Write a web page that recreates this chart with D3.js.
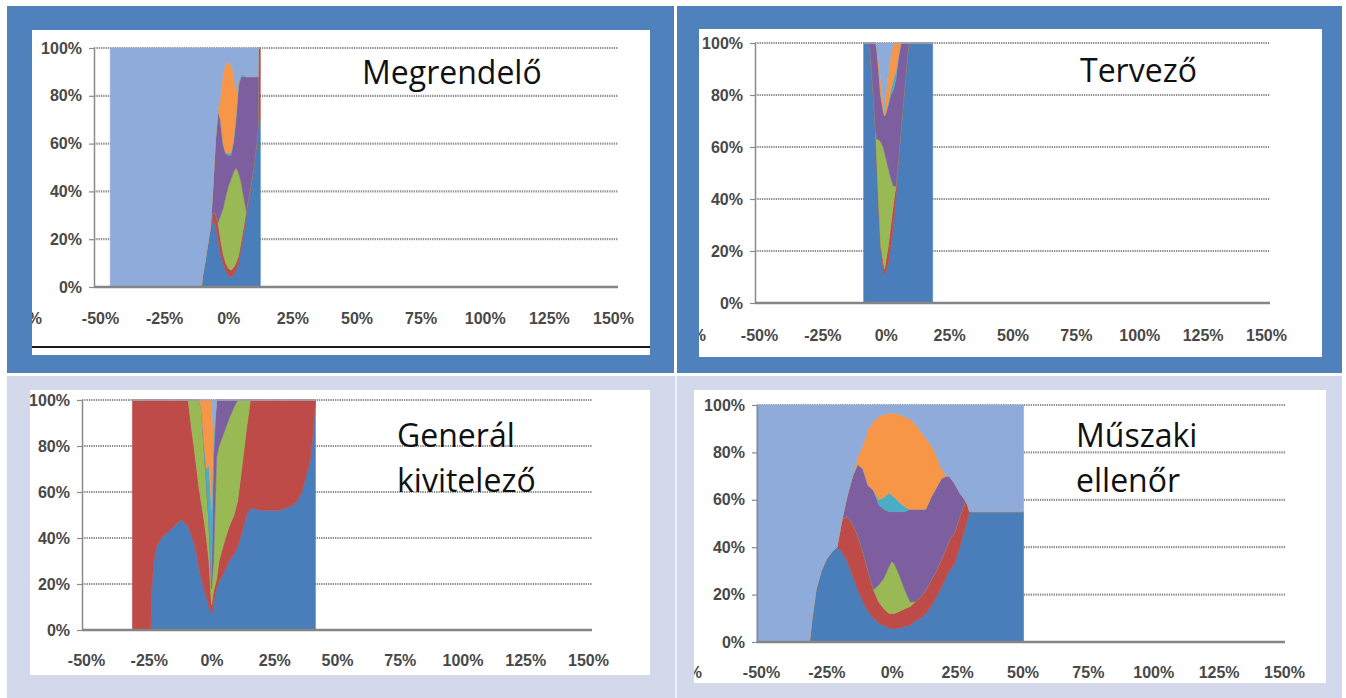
<!DOCTYPE html>
<html><head><meta charset="utf-8">
<script src="https://cdn.jsdelivr.net/npm/d3@7"></script>
<style>body{margin:0;background:#fff}svg{display:block}</style>
</head><body>
<svg id="c" width="1346" height="698"></svg>
<script>
// ---------- shared ----------
const seriesKeys = ["s1","s2","s3","s4","s5","s6","s7"];
const seriesColors = ["#4a7ebb","#be4b48","#98b954","#7d5fa0","#4aacc5","#f79646","#8fabd9"];
const xTicks = [-50,-25,0,25,50,75,100,125,150];
const xTickLabels = ["-50%","-25%","0%","25%","50%","75%","100%","125%","150%"];
const yTicks = [0,20,40,60,80,100];
const yTickLabels = ["0%","20%","40%","60%","80%","100%"];

// ---------- Megrendelő ----------
const megX      = [-46,-10.5,-10,-9,-8,-7,-6,-5,-4,-3,-2,-1,0,1,2,3,4,5,6,7,8,9,10,11,11.6,11.8,12.5];
const megBlue   = [0,0,5,11,18,24,28,26,20,14,10,7,5,4,5,7,10,16,22,30,36,43,50,58,66,70,70];
const megRed    = [0,0,0,0,0,1,3,5,7,6,4,3,3,3,3,3,3,3,3,2,2,1,1,2,2,30,30];
const megGreen  = [0,0,0,0,0,0,0,0,0,10,19,28,34,38,40,40,35,25,13,0,0,0,0,0,0,0,0];
const megPurple = [0,0,0,0,0,0,11,31,47,40,27,18,13,10,12,20,36,44,50,56,50,44,37,28,20,0,0];
const megCyan   = [0,0,0,0,0,0,0,0,0,0,0,0,1,1,1,1,2,1,1,0,0,0,0,0,0,0,0];
const megOrange = [0,0,0,0,0,0,0,0,0,10,30,37,38,37,29,11,0,0,0,0,0,0,0,0,0,0,0];
const megLight  = [100,100,95,89,82,75,58,38,26,20,10,7,6,7,10,18,14,11,11,12,12,12,12,12,12,0,0];

// ---------- Tervező ----------
const terX      = [-8.7,-6.5,-6,-5,-4,-3.5,-3,-2,-1,-0.5,0,1,2,3,4,5,6,7,8,9,18.5];
const terBlue   = [100,100,95,82,66,54,42,21,13,11,12,15,22,30,40,55,67,78,89,100,100];
const terRed    = [0,0,0,0,0,0,0,1,3,2,4,7,8,8,5,1,0,0,0,0,0];
const terGreen  = [0,0,0,0,0,9,21,40,44,45,40,30,18,7,0,0,0,0,0,0,0];
const terPurple = [0,0,5,18,34,35,29,18,14,14,17,24,32,37,41,38,33,22,11,0,0];
const terCyan   = [0,0,0,0,0,0,0,0,0,0,0,1,2,4,3,1,0,0,0,0,0];
const terOrange = [0,0,0,0,0,0,3,6,4,2,7,11,13,14,11,5,0,0,0,0,0];
const terLight  = [0,0,0,0,0,2,5,14,22,26,20,12,5,0,0,0,0,0,0,0,0];

// ---------- Generál kivitelező ----------
const genX      = [-31.5,-24.2,-23.8,-23,-22,-20,-16,-12,-9.3,-8,-7,-6,-5,-4,-3,-2,-1,0,0.8,2,3,5,7,9,10.4,12,14,15.5,20,27,32,34,36,38,39.5,40.5,41.4];
const genBlue   = [0,0,18,30,36,40,44,48,45,41,38,33,27,22,18,14,10,7,12,18,21,25,30,33,36,42,50,53,52,52,54,56,60,68,75,86,100];
const genRed    = [100,100,82,70,64,60,56,52,55,47,42,38,35,33,30,26,20,4,5,4,9,13,15,17,20,28,38,47,48,48,46,44,40,32,25,14,0];
const genGreen  = [0,0,0,0,0,0,0,0,0,12,20,29,38,41,32,24,17,7,13,53,50,48,47,47,44,30,12,0,0,0,0,0,0,0,0,0,0];
const genPurple = [0,0,0,0,0,0,0,0,0,0,0,0,0,0,0,0,0,4,45,25,20,14,8,3,0,0,0,0,0,0,0,0,0,0,0,0,0];
const genCyan   = [0,0,0,0,0,0,0,0,0,0,0,0,0,0,1,6,25,30,10,0,0,0,0,0,0,0,0,0,0,0,0,0,0,0,0,0,0];
const genOrange = [0,0,0,0,0,0,0,0,0,0,0,0,0,4,19,30,28,48,0,0,0,0,0,0,0,0,0,0,0,0,0,0,0,0,0,0,0];
const genLight  = [0,0,0,0,0,0,0,0,0,0,0,0,0,0,0,0,0,0,15,0,0,0,0,0,0,0,0,0,0,0,0,0,0,0,0,0,0];

// ---------- Műszaki ellenőr ----------
const musX      = [-51.6,-31.5,-30.5,-29,-27,-25,-23,-21,-19,-17,-15,-13,-11,-9,-7,-5,-3,-1,0,1,3,5,7,9,11,13,15,17,19,21,22,24,26,28,29,29.8,50.4];
const musBlue   = [0,0,10,22,30,35,38,40,38,34,28,22,17,13,10,8,7,6,5.5,5.5,6,6.5,7,9,10,12,15,19,23,28,30,33,40,48,52,55,55];
const musRed    = [0,0,0,0,0,0,0,0,14,19,22,23,21,17,12,9,7,6,6.5,6.5,7,7.5,8,8,9,10,11,11,12,12,13,13,13,11,6,0,0];
const musGreen  = [0,0,0,0,0,0,0,0,0,0,0,0,0,0,0,7,13,20,22,21,15,8,2,0,0,0,0,0,0,0,0,0,0,0,0,0,0];
const musPurple = [0,0,0,0,0,0,0,0,0,9,20,30,35,36,42,34,29,23,21,22,27,33,39,39,37,34,35,35,34,30,27,21,10,1,0,0,0];
const musCyan   = [0,0,0,0,0,0,0,0,0,0,0,0,0,0,0,2,5,8,7,6,4,2,0,0,0,0,0,0,0,0,0,0,0,0,0,0,0];
const musOrange = [0,0,0,0,0,0,0,0,0,0,0,3,10,24,29,35,35,33.5,34.5,35.5,37,38,38,36,33,30,22,14,4,0,0,0,0,0,0,0,0];
const musLight  = [100,100,90,78,70,65,62,60,48,38,30,22,17,10,7,5,4,3.5,3.5,3.5,4,5,6,8,11,14,17,21,27,30,30,33,37,40,42,45,45];

// ---------- layout ----------
const svg = d3.select("#c");
svg.append("rect").attr("x",0).attr("y",0).attr("width",1346).attr("height",698).attr("fill","#ffffff");
svg.append("rect").attr("x",7).attr("y",6).attr("width",667).attr("height",367).attr("fill","#4f81bd");
svg.append("rect").attr("x",677).attr("y",6).attr("width",665).attr("height",367).attr("fill","#4f81bd");
svg.append("rect").attr("x",7).attr("y",376).attr("width",1335).attr("height",322).attr("fill","#d3d8ea");
svg.append("rect").attr("x",675).attr("y",376).attr("width",2).attr("height",322).attr("fill","#eef0f8");

const panels = [
  {x:megX, s:[megBlue,megRed,megGreen,megPurple,megCyan,megOrange,megLight],
   box:[32,30,618,325], xr:[100,613], yr:[287,48], axisX:94, axisEnd:618, labelY:324,
   title:[["Megrendelő",362,84]], partial:[42,324]},
  {x:terX, s:[terBlue,terRed,terGreen,terPurple,terCyan,terOrange,terLight],
   box:[699,29,623,328], xr:[759,1266], yr:[303,43], axisX:755, axisEnd:1270, labelY:341,
   title:[["Tervező",1080,82]], partial:[706,341]},
  {x:genX, s:[genBlue,genRed,genGreen,genPurple,genCyan,genOrange,genLight],
   box:[30,390,620,285], xr:[86,588], yr:[630,400], axisX:82, axisEnd:592, labelY:666,
   title:[["Generál",397,447],["kivitelező",397,492]], partial:null},
  {x:musX, s:[musBlue,musRed,musGreen,musPurple,musCyan,musOrange,musLight],
   box:[694,390,632,293], xr:[761,1284], yr:[642,405], axisX:757, axisEnd:1285, labelY:678,
   title:[["Műszaki",1076,447],["ellenőr",1076,492]], partial:[702,678]}
];

const defs = svg.append("defs");
const labelFont = "'Liberation Sans', Arial, sans-serif";

panels.forEach((p,i)=>{
  const [bx,by,bw,bh] = p.box;
  svg.append("rect").attr("x",bx).attr("y",by).attr("width",bw).attr("height",bh).attr("fill","#ffffff");
  defs.append("clipPath").attr("id","clip"+i).append("rect").attr("x",bx).attr("y",by).attr("width",bw).attr("height",bh);
  const g = svg.append("g").attr("clip-path",`url(#clip${i})`);
  const x = d3.scaleLinear().domain([-50,150]).range(p.xr);
  const y = d3.scaleLinear().domain([0,100]).range(p.yr);

  g.selectAll("line.grid").data(yTicks.filter(t=>t>0)).join("line")
    .attr("class","grid")
    .attr("x1",p.axisX).attr("x2",p.axisEnd)
    .attr("y1",d=>y(d)).attr("y2",d=>y(d))
    .attr("stroke","#8c8c8c").attr("stroke-width",2.2).attr("stroke-dasharray","1.3,1");

  const rows = p.x.map((xv,j)=>{const r={x:xv}; seriesKeys.forEach((k,m)=>r[k]=p.s[m][j]); return r;});
  const stacked = d3.stack().keys(seriesKeys)(rows);
  const area = d3.area().x(d=>x(d.data.x)).y0(d=>y(d[0])).y1(d=>y(d[1]));
  g.selectAll("path.band").data(stacked).join("path")
    .attr("class","band").attr("d",area)
    .attr("fill",(d,k)=>seriesColors[k]).attr("stroke",(d,k)=>seriesColors[k]).attr("stroke-width",0.6);

  const ya = g.append("g").attr("transform",`translate(${p.axisX},0)`)
    .call(d3.axisLeft(y).tickValues(yTicks).tickFormat((d,k)=>yTickLabels[k]).tickSize(5).tickSizeOuter(0).tickPadding(7));
  ya.select(".domain").attr("stroke","#8a8a8a").attr("stroke-width",1.5);
  ya.selectAll(".tick line").attr("stroke","#8a8a8a").attr("stroke-width",1.2);
  ya.selectAll("text").attr("font-family",labelFont).attr("font-size",16).attr("font-weight","bold").attr("fill","#484848");

  g.append("line").attr("x1",p.axisX).attr("x2",p.axisEnd).attr("y1",y(0)).attr("y2",y(0))
    .attr("stroke","#858585").attr("stroke-width",2.5);

  const xa = g.append("g").attr("transform",`translate(0,${p.labelY-11.5})`)
    .call(d3.axisBottom(x).tickValues(xTicks).tickFormat((d,k)=>xTickLabels[k]).tickSize(0).tickPadding(0));
  xa.select(".domain").remove();
  xa.selectAll("text").attr("font-family",labelFont).attr("font-size",16).attr("font-weight","bold").attr("fill","#484848");

  if (p.partial) {
    g.append("text").attr("x",p.partial[0]).attr("y",p.partial[1]).attr("text-anchor","end")
      .attr("font-family",labelFont).attr("font-size",16).attr("font-weight","bold").attr("fill","#484848").text("-75%");
  }

  p.title.forEach(t=>{
    g.append("text").attr("x",t[1]).attr("y",t[2]).text(t[0])
      .attr("font-family","'Open Sans', 'Noto Sans', sans-serif").attr("font-size",32).attr("fill","#111");
  });
});

svg.append("line").attr("x1",32).attr("x2",650).attr("y1",347).attr("y2",347).attr("stroke","#1a1a1a").attr("stroke-width",2);
</script>
</body></html>
